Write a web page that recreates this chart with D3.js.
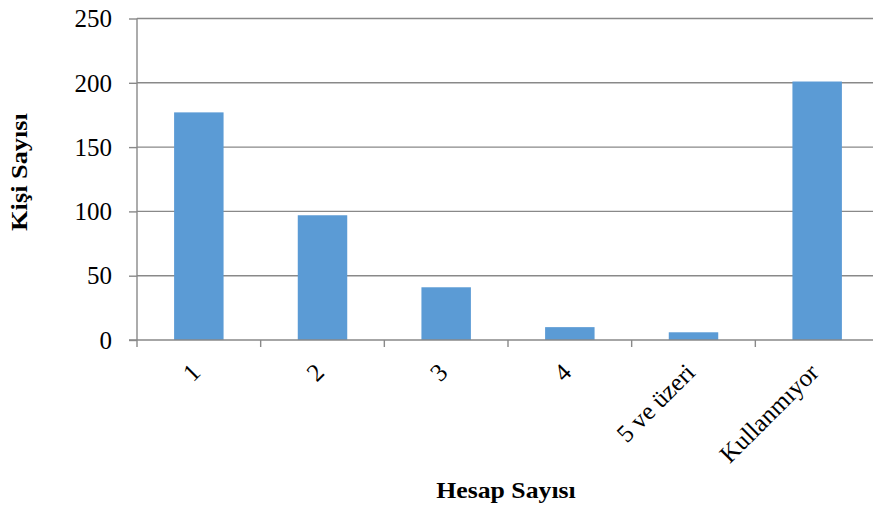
<!DOCTYPE html>
<html><head><meta charset="utf-8">
<script src="https://cdn.jsdelivr.net/npm/d3@7"></script>
<style>body{margin:0;background:#fff}svg{display:block}</style>
</head><body>
<svg id="c" width="873" height="511"></svg>
<script>
const categories = ["1","2","3","4","5 ve üzeri","Kullanmıyor"];
const values = [177, 97, 41, 10, 6, 201];
const yTicks = [0, 50, 100, 150, 200, 250];
const xTitle = "Hesap Sayısı";
const yTitle = "Kişi Sayısı";

(function(){
const svg = d3.select("#c");
const mL = 137, mT = 18.5, mB = 340, mR = 879;
const font = "'Liberation Serif','Times New Roman',serif";
const x = d3.scaleBand().domain(categories).range([mL, mR]).paddingInner(0.6).paddingOuter(0.3);
const y = d3.scaleLinear().domain([0, 250]).range([mB, mT]);
const step = (mR-mL)/categories.length;
const grey = "#898989";

// gridlines
svg.append("g").selectAll("line").data(yTicks.filter(d=>d>0)).join("line")
  .attr("x1", mL).attr("x2", mR)
  .attr("y1", d=>y(d)).attr("y2", d=>y(d))
  .attr("stroke", grey).attr("stroke-width", 1.4);

// bars
svg.append("g").selectAll("rect").data(values).join("rect")
  .attr("x", (d,i)=>x(categories[i])).attr("width", x.bandwidth())
  .attr("y", d=>y(d)).attr("height", d=>mB - y(d))
  .attr("fill", "#5b9bd5");

// y axis
const ya = svg.append("g").attr("transform", `translate(${mL},0)`)
  .call(d3.axisLeft(y).tickValues(yTicks).tickSize(8).tickPadding(17));
ya.select(".domain").attr("stroke", grey).attr("stroke-width", 1.4).attr("d", `M0,${mT}V${mB}`);
ya.selectAll(".tick line").attr("stroke", grey).attr("stroke-width", 1.4);
ya.selectAll(".tick text").attr("font-family", font).attr("font-size", 25).attr("fill", "#000").attr("dy", "0.33em");

// x axis
const xa = svg.append("g").attr("transform", `translate(0,${mB})`);
xa.append("line").attr("x1", mL-8).attr("x2", mR).attr("y1",0).attr("y2",0)
  .attr("stroke", grey).attr("stroke-width", 1.4);
xa.selectAll("line.t").data(d3.range(categories.length+1)).join("line").attr("class","t")
  .attr("x1", i=>mL + i*step).attr("x2", i=>mL + i*step)
  .attr("y1", 0).attr("y2", 7).attr("stroke", grey).attr("stroke-width", 1.4);
xa.selectAll("text").data(categories).join("text")
  .attr("transform", d=>`translate(${x(d)+x.bandwidth()/2+3},${34}) rotate(-45)`)
  .attr("text-anchor", "end")
  .attr("font-family", font).attr("font-size", 25).attr("fill", "#000")
  .text(d=>d);

// titles
svg.append("text").attr("transform", "translate(506,498) scale(1.12,1)").attr("text-anchor", "middle")
  .attr("font-family", font).attr("font-size", 23)
  .attr("font-weight", "bold").text(xTitle);
svg.append("text").attr("transform", "translate(27,172) rotate(-90) scale(1.145,1)").attr("text-anchor", "middle")
  .attr("font-family", font).attr("font-size", 23)
  .attr("font-weight", "bold").text(yTitle);
})();
</script>
</body></html>
